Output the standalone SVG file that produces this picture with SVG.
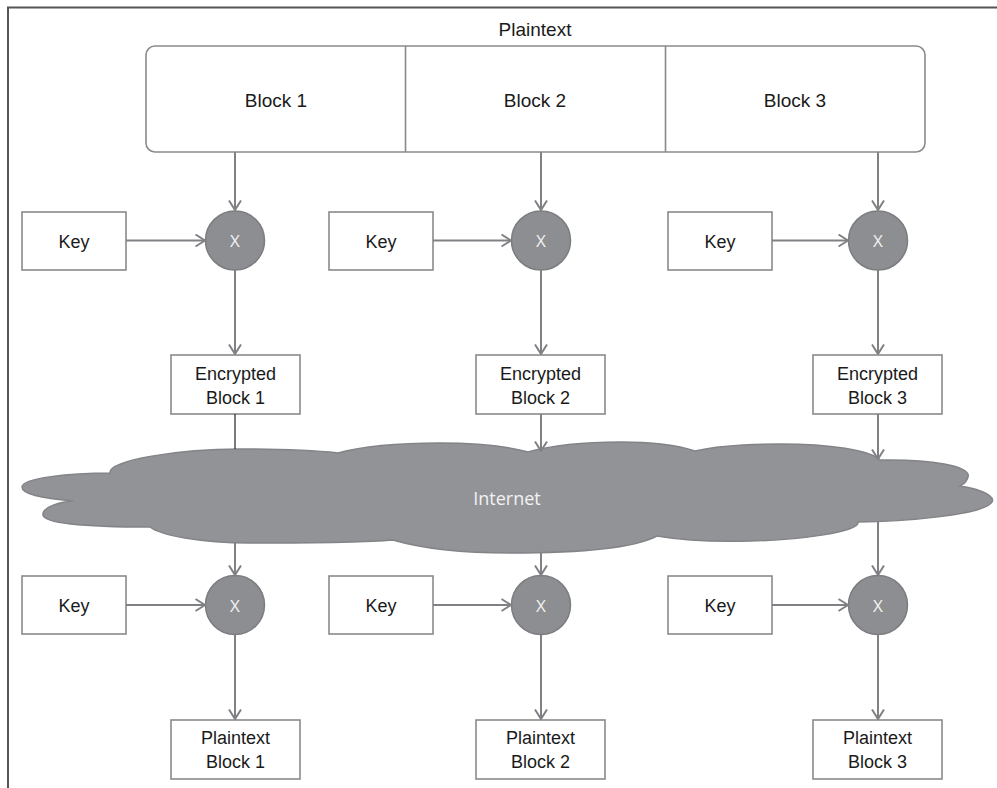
<svg xmlns="http://www.w3.org/2000/svg" width="997" height="788" viewBox="0 0 997 788">
<style>
.t{font-family:"Liberation Sans",Arial,sans-serif;font-size:18px;fill:#1a1a1a;text-anchor:middle}
.b{font-size:19px}
.box{fill:#fff;stroke:#8a8a8c;stroke-width:1.6}
.op{fill:#8d8e91;stroke:#7c7d80;stroke-width:1.5}
.w{font-family:"Open Sans","Liberation Sans",sans-serif;fill:#f2f2f2;text-anchor:middle}
.c{stroke:#808184;stroke-width:2;fill:none}
</style>
<defs>
<marker id="ah" markerUnits="userSpaceOnUse" viewBox="0 0 11 14" refX="10.5" refY="7" markerWidth="11" markerHeight="14" orient="auto">
<path d="M1,1 L10.5,7 L1,13" fill="none" stroke="#808184" stroke-width="2"/>
</marker>
</defs>
<rect width="997" height="788" fill="#fff"/>
<g id="frame" stroke="#555" stroke-width="2" fill="none">
<path d="M8,788 V7.5 H997"/>
</g>
<g id="plaintext">
<text class="t b" x="535" y="36">Plaintext</text>
<rect class="box" x="146" y="46" width="779" height="106" rx="9"/>
<line x1="405.5" y1="46" x2="405.5" y2="152" stroke="#8a8a8c" stroke-width="1.6"/>
<line x1="665.5" y1="46" x2="665.5" y2="152" stroke="#8a8a8c" stroke-width="1.6"/>
<text class="t b" x="276" y="107">Block 1</text>
<text class="t b" x="535" y="107">Block 2</text>
<text class="t b" x="795" y="107">Block 3</text>
</g>
<g id="cloud">
<path d="M110,473 C108,460 180,449 240,449 C290,449 320,451 338,453 C370,444 420,443 440,443 C480,443 510,447 528,452 C560,443 600,442 620,442 C660,442 680,446 695,451 C720,445 760,444 780,444 C830,444 870,450 880,460 C930,459 972,466 968,477 C967,481 964,484 960,486 C985,490 995,497 992,502 C985,515 900,522 858,522 C860,532 800,540 750,541 C710,542 680,540 657,536 C630,550 560,553 510,553 C460,553 420,548 393,540 C360,543 300,543 250,543 C200,543 160,535 150,527 C100,527 45,525 43,515 C42,507 60,502 73,501 C40,498 22,494 22,487 C22,478 70,473 110,473 Z" fill="#929397" stroke="#838488" stroke-width="1.5"/>
<text class="w" x="507" y="505" font-size="18">Internet</text>
</g>
<g id="key1"><rect class="box" x="22" y="212" width="104" height="58"/><text class="t" x="74" y="248">Key</text></g>
<g id="key2"><rect class="box" x="329" y="212" width="104" height="58"/><text class="t" x="381" y="248">Key</text></g>
<g id="key3"><rect class="box" x="668" y="212" width="104" height="58"/><text class="t" x="720" y="248">Key</text></g>
<g id="x1"><circle class="op" cx="235" cy="240.5" r="29.5"/><text class="w" x="235" y="247" font-size="17">X</text></g>
<g id="x2"><circle class="op" cx="541" cy="240.5" r="29.5"/><text class="w" x="541" y="247" font-size="17">X</text></g>
<g id="x3"><circle class="op" cx="878" cy="240.5" r="29.5"/><text class="w" x="878" y="247" font-size="17">X</text></g>
<g id="enc1"><rect class="box" x="171" y="355" width="129" height="59"/><text class="t" x="235.5" y="380">Encrypted</text><text class="t" x="235.5" y="404">Block 1</text></g>
<g id="enc2"><rect class="box" x="476" y="355" width="129" height="59"/><text class="t" x="540.5" y="380">Encrypted</text><text class="t" x="540.5" y="404">Block 2</text></g>
<g id="enc3"><rect class="box" x="813" y="355" width="129" height="59"/><text class="t" x="877.5" y="380">Encrypted</text><text class="t" x="877.5" y="404">Block 3</text></g>
<g id="key4"><rect class="box" x="22" y="576" width="104" height="58"/><text class="t" x="74" y="612">Key</text></g>
<g id="key5"><rect class="box" x="329" y="576" width="104" height="58"/><text class="t" x="381" y="612">Key</text></g>
<g id="key6"><rect class="box" x="668" y="576" width="104" height="58"/><text class="t" x="720" y="612">Key</text></g>
<g id="x4"><circle class="op" cx="235" cy="605" r="29.5"/><text class="w" x="235" y="611.5" font-size="17">X</text></g>
<g id="x5"><circle class="op" cx="541" cy="605" r="29.5"/><text class="w" x="541" y="611.5" font-size="17">X</text></g>
<g id="x6"><circle class="op" cx="878" cy="605" r="29.5"/><text class="w" x="878" y="611.5" font-size="17">X</text></g>
<g id="dec1"><rect class="box" x="171" y="720" width="129" height="59"/><text class="t" x="235.5" y="744">Plaintext</text><text class="t" x="235.5" y="768">Block 1</text></g>
<g id="dec2"><rect class="box" x="476" y="720" width="129" height="59"/><text class="t" x="540.5" y="744">Plaintext</text><text class="t" x="540.5" y="768">Block 2</text></g>
<g id="dec3"><rect class="box" x="813" y="720" width="129" height="59"/><text class="t" x="877.5" y="744">Plaintext</text><text class="t" x="877.5" y="768">Block 3</text></g>
<g id="connectors">
<line class="c" x1="235" y1="152" x2="235" y2="210" marker-end="url(#ah)"/>
<line class="c" x1="541" y1="152" x2="541" y2="210" marker-end="url(#ah)"/>
<line class="c" x1="878" y1="152" x2="878" y2="210" marker-end="url(#ah)"/>
<line class="c" x1="126" y1="240.5" x2="205" y2="240.5" marker-end="url(#ah)"/>
<line class="c" x1="433" y1="240.5" x2="511" y2="240.5" marker-end="url(#ah)"/>
<line class="c" x1="772" y1="240.5" x2="848" y2="240.5" marker-end="url(#ah)"/>
<line class="c" x1="235" y1="270" x2="235" y2="354" marker-end="url(#ah)"/>
<line class="c" x1="541" y1="270" x2="541" y2="354" marker-end="url(#ah)"/>
<line class="c" x1="878" y1="270" x2="878" y2="354" marker-end="url(#ah)"/>
<line x1="235" y1="414" x2="235" y2="449" stroke="#222" stroke-width="1.2"/>
<line class="c" x1="541" y1="414" x2="541" y2="451" marker-end="url(#ah)"/>
<line class="c" x1="878" y1="414" x2="878" y2="459" marker-end="url(#ah)"/>
<line class="c" x1="235" y1="543" x2="235" y2="575" marker-end="url(#ah)"/>
<line class="c" x1="541" y1="553" x2="541" y2="575" marker-end="url(#ah)"/>
<line class="c" x1="878" y1="522" x2="878" y2="575" marker-end="url(#ah)"/>
<line class="c" x1="126" y1="605" x2="205" y2="605" marker-end="url(#ah)"/>
<line class="c" x1="433" y1="605" x2="511" y2="605" marker-end="url(#ah)"/>
<line class="c" x1="772" y1="605" x2="848" y2="605" marker-end="url(#ah)"/>
<line class="c" x1="235" y1="634.5" x2="235" y2="719" marker-end="url(#ah)"/>
<line class="c" x1="541" y1="634.5" x2="541" y2="719" marker-end="url(#ah)"/>
<line class="c" x1="878" y1="634.5" x2="878" y2="719" marker-end="url(#ah)"/>
</g>
</svg>
